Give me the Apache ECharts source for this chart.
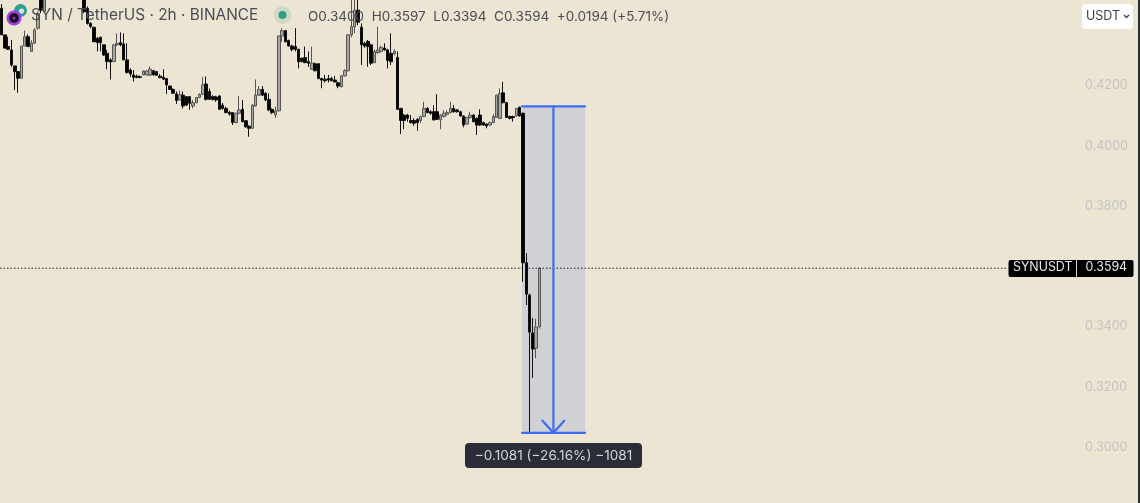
<!DOCTYPE html>
<html><head><meta charset="utf-8">
<style>html,body{margin:0;padding:0;background:#ece5d3;overflow:hidden}#c{width:1140px;height:503px}</style>
<script src="https://cdn.jsdelivr.net/npm/echarts@6/dist/echarts.min.js"></script>
</head><body><div id="c"></div>
<script>
// rows: [open, close, low, high]
const candlesA = [
[.4456,.4368,.4368,.4470],[.4368,.4324,.4324,.4368],[.4329,.4320,.4318,.4362],[.4318,.4268,.4262,.4351],
[.4265,.4246,.4185,.4265],[.4246,.4224,.4176,.4246],[.4224,.4331,.4224,.4331],[.4331,.4362,.4331,.4382],
[.4362,.4329,.4329,.4370],[.4313,.4340,.4313,.4350],[.4340,.4384,.4340,.4390],[.4390,.4439,.4385,.4445],
[.4490,.4450,.4440,.4510],[.4445,.4490,.4440,.4510],[.4490,.4510,.4488,.4525],[.4510,.4530,.4505,.4540],
[.4530,.4522,.4515,.4545],[.4522,.4541,.4518,.4552],[.4541,.4535,.4528,.4556],[.4535,.4548,.4530,.4560],
[.4548,.4540,.4532,.4563],[.4540,.4533,.4526,.4550],[.4533,.4528,.4520,.4542],[.4528,.4520,.4512,.4536],
[.4520,.4497,.4490,.4528],[.4497,.4445,.4440,.4505],[.4456,.4406,.4402,.4462],[.4406,.4396,.4390,.4410],
[.4393,.4345,.4345,.4395],[.4357,.4342,.4313,.4360],[.4360,.4342,.4313,.4362],[.4335,.4301,.4298,.4335],
[.4307,.4279,.4254,.4318],[.4285,.4278,.4220,.4290],[.4279,.4335,.4279,.4335],[.4335,.4340,.4330,.4373],
[.4342,.4335,.4330,.4376],[.4338,.4285,.4285,.4373],[.4285,.4243,.4240,.4340],[.4251,.4238,.4229,.4257]
];
const candlesB = [
[.4235,.4227,.4213,.4251],[.4231,.4227,.4224,.4236],[.4229,.4227,.4224,.4233],[.4235,.4248,.4235,.4250],
[.4235,.4248,.4233,.4251],[.4234,.4254,.4232,.4263],[.4249,.4235,.4233,.4252],[.4246,.4234,.4232,.4248],
[.4231,.4226,.4224,.4238],[.4227,.4221,.4218,.4254],[.4223,.4202,.4172,.4224],[.4198,.4187,.4185,.4200],
[.4187,.4174,.4172,.4190],[.4172,.4150,.4139,.4180],[.4152,.4169,.4150,.4183],[.4168,.4132,.4124,.4180],
[.4163,.4135,.4132,.4165],[.4163,.4141,.4119,.4165],[.4132,.4143,.4124,.4152],[.4143,.4160,.4141,.4162],
[.4160,.4171,.4158,.4174],[.4171,.4202,.4168,.4228],[.4205,.4154,.4150,.4230],[.4180,.4154,.4152,.4190],
[.4163,.4154,.4150,.4168],[.4162,.4152,.4146,.4166],[.4165,.4121,.4119,.4168],[.4135,.4124,.4120,.4142],
[.4124,.4110,.4108,.4130],[.4111,.4105,.4100,.4116],[.4110,.4077,.4069,.4112],[.4077,.4108,.4075,.4110],
[.4108,.4119,.4105,.4165],[.4121,.4080,.4078,.4152],[.4083,.4063,.4060,.4085],[.4065,.4058,.4030,.4068],
[.4058,.4135,.4056,.4137],[.4132,.4168,.4130,.4220],[.4168,.4187,.4165,.4198],[.4187,.4168,.4165,.4198],
[.4174,.4152,.4148,.4178],[.4154,.4119,.4115,.4174],[.4121,.4110,.4105,.4124],[.4102,.4116,.4092,.4130]
];
const candlesC = [
[.4116,.4364,.4114,.4366],[.4364,.4382,.4345,.4390],[.4382,.4345,.4343,.4384],[.4349,.4331,.4329,.4352],
[.4331,.4320,.4313,.4335],[.4329,.4320,.4313,.4390],[.4320,.4279,.4257,.4322],[.4290,.4279,.4277,.4293],
[.4293,.4276,.4274,.4329],[.4279,.4274,.4262,.4313],[.4254,.4274,.4252,.4329],[.4272,.4249,.4247,.4276],
[.4272,.4223,.4221,.4274],[.4223,.4218,.4191,.4226],[.4221,.4216,.4210,.4235],[.4223,.4218,.4210,.4235],
[.4223,.4216,.4213,.4229],[.4218,.4212,.4210,.4232],[.4209,.4198,.4191,.4212],[.4196,.4232,.4194,.4234],
[.4232,.4249,.4230,.4254],[.4249,.4368,.4247,.4370],[.4368,.4395,.4360,.4490],[.4395,.4450,.4373,.4510],
[.4450,.4410,.4400,.4500],[.4393,.4335,.4268,.4406],[.4340,.4331,.4325,.4345],[.4346,.4329,.4262,.4351],
[.4335,.4274,.4268,.4338],[.4276,.4313,.4274,.4320],[.4309,.4318,.4305,.4395],[.4313,.4327,.4310,.4332],
[.4324,.4318,.4315,.4340],[.4318,.4283,.4257,.4322],[.4307,.4279,.4268,.4373],[.4305,.4313,.4300,.4320]
];
const candlesD = [
[.4293,.4121,.4119,.4313],[.4124,.4084,.4039,.4126],[.4102,.4084,.4055,.4105],[.4102,.4091,.4080,.4106],
[.4084,.4077,.4074,.4102],[.4084,.4075,.4066,.4091],[.4088,.4077,.4050,.4092],[.4084,.4097,.4075,.4100],
[.4097,.4124,.4095,.4146],[.4124,.4110,.4108,.4128],[.4113,.4108,.4103,.4118],[.4113,.4086,.4084,.4135],
[.4113,.4088,.4086,.4171],[.4086,.4102,.4055,.4105],[.4097,.4108,.4094,.4118],[.4105,.4110,.4100,.4118],
[.4110,.4124,.4108,.4146],[.4124,.4113,.4110,.4135],[.4119,.4113,.4110,.4122],[.4113,.4099,.4097,.4116],
[.4099,.4069,.4061,.4102],[.4072,.4094,.4069,.4096],[.4094,.4102,.4090,.4113],[.4102,.4080,.4078,.4105],
[.4091,.4069,.4036,.4094],[.4102,.4069,.4066,.4121],[.4077,.4069,.4066,.4080],[.4072,.4066,.4058,.4075],
[.4069,.4077,.4066,.4080],[.4077,.4097,.4075,.4105],[.4094,.4168,.4092,.4170],[.4091,.4174,.4089,.4191],
[.4176,.4143,.4141,.4212],[.4143,.4094,.4092,.4146],[.4097,.4091,.4088,.4100],[.4097,.4094,.4080,.4100],
[.4099,.4124,.4097,.4126],[.4128,.4099,.4097,.4130]
];
const candlesDrop = [
[.4108,.3612,.3549,.4110],[.3612,.3508,.3472,.3644],[.3505,.3382,.3051,.3510],
[.3379,.3326,.3230,.3429],[.3329,.3399,.3296,.3426],[.3400,.3594,.3394,.3597]
];
const candles = [...candlesA, ...candlesB, ...candlesC, ...candlesD, ...candlesDrop];
const slotCount = 327;
const categories = Array.from({length: slotCount}, (_, i) => String(i));
const lastPrice = 0.3594;
const measureHigh = 0.4131, measureLow = 0.3048;
const measureFrom = 157.7, measureTo = 176.8, measureMid = 167.2; // in bar slots
const arrowWing = 3.3, arrowRise = 0.0040;
const priceLineEnd = 305;

const blue = '#3d6cf2';
const font = 'Inter, "Noto Sans", sans-serif';
const chart = echarts.init(document.getElementById('c'), null, {renderer:'canvas'});
const blueLine = (data, name) => ({
  name, type:'line', xAxisIndex:1, yAxisIndex:0, data, symbol:'none', silent:true, z:6,
  lineStyle:{color:blue, width:2.2, cap:'round'}, animation:false
});
chart.setOption({
  animation:false,
  backgroundColor:'#ece5d3',
  grid:{left:0, top:85.5, width:slotCount*3.3, height:361.8},
  xAxis:[
    {type:'category', data:categories, boundaryGap:true, show:false},
    {type:'value', min:-0.5, max:slotCount-0.5, show:false}
  ],
  yAxis:{
    type:'value', position:'right', min:0.30, max:0.42, interval:0.02, scale:true,
    axisLine:{show:false}, axisTick:{show:false}, splitLine:{show:false},
    axisLabel:{margin:6, color:'#c4c4c4', fontSize:12.5, fontFamily:font, padding:[3,0,0,0], formatter:v=>v.toFixed(4)}
  },
  series:[
    {name:'Measure area', type:'line', xAxisIndex:1, data:[[measureFrom,measureHigh]], symbol:'none', silent:true, z:1,
     lineStyle:{opacity:0},
     markArea:{silent:true, itemStyle:{color:'#d0d1d5'},
       data:[[{xAxis:measureFrom,yAxis:measureHigh},{xAxis:measureTo,yAxis:measureLow}]]}},
    {name:'SYNUSDT', type:'candlestick', xAxisIndex:0, data:candles, barWidth:3, z:3, clip:false,
     itemStyle:{color:'#a8a7a3', color0:'#000000', borderColor:'#555552', borderColor0:'#111111', borderWidth:1}},
    {name:'Last price', type:'line', xAxisIndex:1, data:[[-0.5,lastPrice],[priceLineEnd,lastPrice]], symbol:'none', silent:true, z:5,
     lineStyle:{color:'#1e1e1e', width:1, type:[1.5,2]}},
    blueLine([[measureFrom,measureHigh],[measureTo,measureHigh]],'Measure top'),
    blueLine([[measureFrom,measureLow],[measureTo,measureLow]],'Measure bottom'),
    blueLine([[measureMid,measureHigh],[measureMid,measureLow]],'Measure shaft'),
    blueLine([[measureMid-arrowWing,measureLow+arrowRise],[measureMid,measureLow],[measureMid+arrowWing,measureLow+arrowRise]],'Measure head')
  ],
  graphic:[
    // header
    {type:'circle', shape:{cx:20.5,cy:10.5,r:6.5}, style:{fill:'#2f9e94'}, z:20},
    {type:'circle', shape:{cx:21.5,cy:11,r:2.6}, style:{fill:'#cfe6df'}, z:20},
    {type:'circle', shape:{cx:14,cy:18,r:7.5}, style:{fill:'#a23be0'}, z:21},
    {type:'circle', shape:{cx:14,cy:18,r:4.8}, style:{fill:'#151020'}, z:22},
    {type:'circle', shape:{cx:14,cy:18,r:1.6}, style:{fill:'#8a2fc0'}, z:23},
    {type:'text', x:31, y:8, style:{text:'SYN / TetherUS · 2h · BINANCE', fill:'#4b4d55', font:'400 15.4px '+font}, z:20},
    {type:'circle', shape:{cx:282.5,cy:15,r:9}, style:{fill:'rgba(47,158,135,0.16)'}, z:20},
    {type:'circle', shape:{cx:282.5,cy:15,r:4}, style:{fill:'#2f9e87'}, z:21},
    {type:'text', x:308, y:9.5, style:{text:'O0.3400  H0.3597  L0.3394  C0.3594  +0.0194 (+5.71%)', fill:'#4b4d55', font:'400 13.5px '+font}, z:20},
    // currency button
    {type:'rect', shape:{x:1082,y:4,width:51,height:25,r:4}, style:{fill:'#ffffff'}, z:20},
    {type:'text', x:1086, y:10, style:{text:'USDT', fill:'#3c3f47', font:'400 12.5px '+font}, z:21},
    {type:'polyline', shape:{points:[[1124,15],[1126.5,17.5],[1129,15]]}, style:{stroke:'#3c3f47',fill:'none',lineWidth:1.3}, z:21},
    // last price tag
    {type:'rect', shape:{x:1008.5,y:260,width:125,height:17,r:2}, style:{fill:'#000000'}, z:20},
    {type:'line', shape:{x1:1076.5,y1:260,x2:1076.5,y2:277}, style:{stroke:'#cfcfcf',lineWidth:1}, z:21},
    {type:'text', x:1013, y:261.5, style:{text:'SYNUSDT', fill:'#e6e6e6', font:'400 12.4px '+font}, z:21},
    {type:'text', x:1085.5, y:261.5, style:{text:'0.3594', fill:'#e6e6e6', font:'400 12.4px '+font}, z:21},
    // measure tooltip
    {type:'rect', shape:{x:465,y:443,width:177,height:25,r:4}, style:{fill:'#2a2d38'}, z:20},
    {type:'text', x:553.5, y:456, style:{text:'−0.1081 (−26.16%) −1081', fill:'#d2d3d7', font:'400 13.6px '+font, align:'center', verticalAlign:'middle'}, z:21},
    // right edge
    {type:'rect', shape:{x:1138,y:0,width:2,height:503}, style:{fill:'#2e2f35'}, z:30}
  ]
});
</script></body></html>
